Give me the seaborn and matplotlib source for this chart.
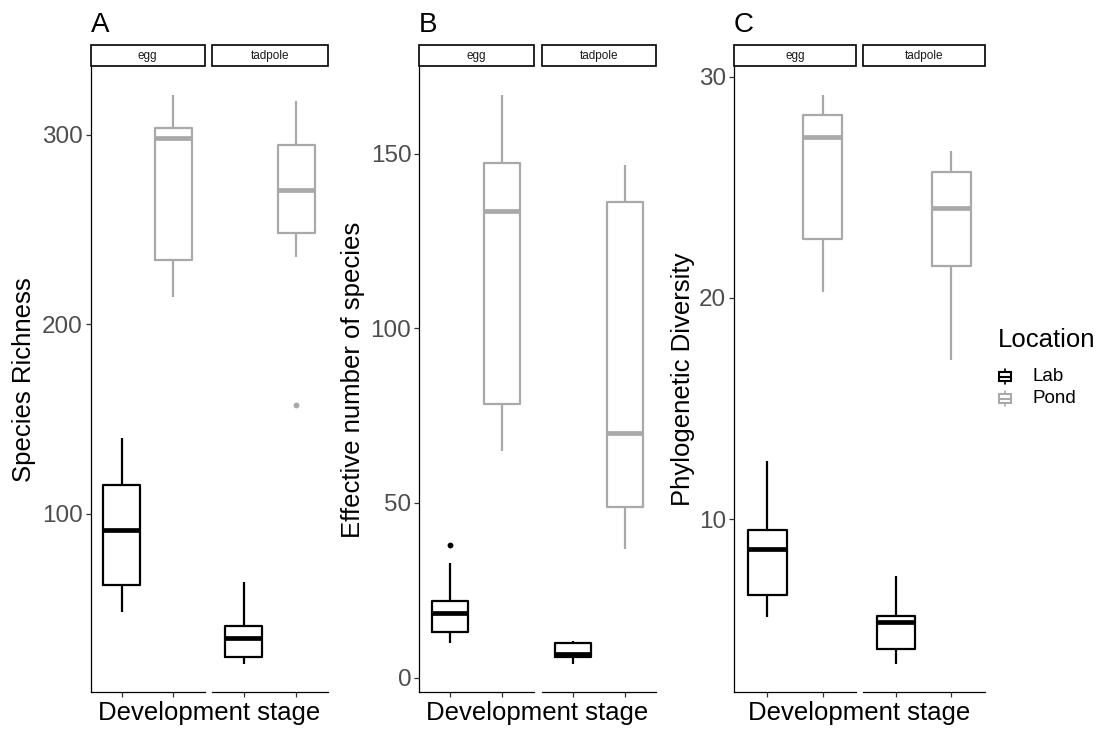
import numpy as np
import pandas as pd
import matplotlib
matplotlib.use("Agg")
import matplotlib.pyplot as plt
import seaborn as sns
from matplotlib.patches import Rectangle
from matplotlib.lines import Line2D

# ---------------- data (five-number summaries) -------------
stages = ["egg", "tadpole"]
locations = ["Lab", "Pond"]

# [lower whisker, Q1, median, Q3, upper whisker]
rich_egg_lab = [48.3, 62.4, 91.4, 115.0, 140.1]
rich_egg_pond = [214.6, 234.1, 298.5, 303.7, 320.9]
rich_tad_lab = [20.8, 24.5, 34.3, 40.5, 63.8]
rich_tad_pond = [235.3, 248.3, 271.0, 294.6, 317.7]
rich_outliers = [("tadpole", "Pond", 157.3)]

ens_egg_lab = [9.9, 13.1, 18.5, 22.0, 32.9]
ens_egg_pond = [64.9, 78.4, 133.6, 147.3, 166.7]
ens_tad_lab = [4.0, 6.0, 6.7, 9.9, 10.5]
ens_tad_pond = [36.9, 48.7, 70.0, 136.3, 146.7]
ens_outliers = [("egg", "Lab", 38.0)]

pd_egg_lab = [5.58, 6.57, 8.63, 9.52, 12.63]
pd_egg_pond = [20.25, 22.69, 27.26, 28.27, 29.16]
pd_tad_lab = [3.47, 4.11, 5.33, 5.64, 7.43]
pd_tad_pond = [17.2, 21.43, 24.08, 25.68, 26.63]
pd_outliers = []

rich_ticks = [100, 200, 300]
ens_ticks = [0, 50, 100, 150]
pd_ticks = [10, 20, 30]

# ---------------- styling ----------------
sns.set_theme(style="ticks")
plt.rcParams["font.family"] = ["Liberation Sans", "DejaVu Sans"]
plt.rcParams["text.color"] = "black"
plt.rcParams["axes.labelcolor"] = "black"

W, H = 1099, 730
fig = plt.figure(figsize=(W / 100, H / 100), dpi=100)


def fx(px):
    return px / W


def fy(py):
    return 1 - py / H


colors = {"Lab": "black", "Pond": "#A9A9A9"}
TOP, BOT = 67, 692
STRIP_TOP, STRIP_BOT = 45, 66


def make_df(boxes):
    rows = []
    for (stage, loc), vals in boxes.items():
        for v in vals:
            rows.append({"stage": stage, "Location": loc, "value": v})
    return pd.DataFrame(rows)


panels = [
    dict(letter="A", ylabel="Species Richness",
         boxes={("egg", "Lab"): rich_egg_lab, ("egg", "Pond"): rich_egg_pond,
                ("tadpole", "Lab"): rich_tad_lab, ("tadpole", "Pond"): rich_tad_pond},
         outliers=rich_outliers, ticks=rich_ticks,
         xs={"egg": (90.5, 204.5), "tadpole": (212, 328)}, ylab_x=24),
    dict(letter="B", ylabel="Effective number of species",
         boxes={("egg", "Lab"): ens_egg_lab, ("egg", "Pond"): ens_egg_pond,
                ("tadpole", "Lab"): ens_tad_lab, ("tadpole", "Pond"): ens_tad_pond},
         outliers=ens_outliers, ticks=ens_ticks,
         xs={"egg": (419, 533.5), "tadpole": (541.5, 656)}, ylab_x=353),
    dict(letter="C", ylabel="Phylogenetic Diversity",
         boxes={("egg", "Lab"): pd_egg_lab, ("egg", "Pond"): pd_egg_pond,
                ("tadpole", "Lab"): pd_tad_lab, ("tadpole", "Pond"): pd_tad_pond},
         outliers=pd_outliers, ticks=pd_ticks,
         xs={"egg": (734, 856), "tadpole": (863, 984.5)}, ylab_x=683),
]

for p in panels:
    df = make_df(p["boxes"])
    odf = pd.DataFrame(p["outliers"], columns=["stage", "Location", "value"])
    allv = list(df["value"]) + list(odf["value"])
    lo, hi = min(allv), max(allv)
    pad = 0.05 * (hi - lo)
    ylim = (lo - pad, hi + pad)

    for stage in stages:
        x0, x1 = p["xs"][stage]
        ax = fig.add_axes([fx(x0), fy(BOT), fx(x1 - x0), (BOT - TOP) / H])
        sub = df[df["stage"] == stage]
        sns.boxplot(data=sub, x="Location", y="value", hue="Location",
                    order=locations, hue_order=locations, palette=colors,
                    fill=False, width=0.7, whis=(0, 100), showfliers=False,
                    showcaps=False, linewidth=1.6,
                    medianprops=dict(linewidth=3.4), legend=False, ax=ax)
        osub = odf[odf["stage"] == stage]
        if len(osub):
            sns.stripplot(data=osub, x="Location", y="value", hue="Location",
                          order=locations, hue_order=locations, palette=colors,
                          jitter=False, size=4.2, linewidth=0, legend=False, ax=ax)
        ax.set_xlim(-0.6, 1.6)
        ax.set_ylim(*ylim)
        ax.set_xticks([0, 1])
        ax.set_xticklabels([])
        ax.set_xlabel("")
        ax.set_ylabel("")
        ax.set_facecolor("white")
        for s in ["top", "right"]:
            ax.spines[s].set_visible(False)
        ax.spines["bottom"].set_linewidth(0.9)
        ax.spines["left"].set_linewidth(0.9)
        ax.spines["bottom"].set_color("black")
        ax.spines["left"].set_color("black")
        ax.tick_params(axis="both", color="#333333", length=3.5, width=0.9,
                       labelsize=17.5, labelcolor="#4D4D4D", pad=2)
        if stage == "egg":
            ax.set_yticks(p["ticks"])
        else:
            ax.spines["left"].set_visible(False)
            ax.set_yticks([])

        # strip
        fig.add_artist(Rectangle((fx(x0), fy(STRIP_BOT)), fx(x1 - x0),
                                 (STRIP_BOT - STRIP_TOP) / H,
                                 transform=fig.transFigure, facecolor="white",
                                 edgecolor="black", lw=1.2))
        fig.text(fx((x0 + x1) / 2), fy((STRIP_TOP + STRIP_BOT) / 2 + 1), stage,
                 ha="center", va="center", fontsize=8.5, color="#1A1A1A")

    ex0 = p["xs"]["egg"][0]
    tx1 = p["xs"]["tadpole"][1]
    fig.text(fx(ex0), fy(32), p["letter"], fontsize=20, va="baseline", ha="left")
    fig.text(fx((ex0 + tx1) / 2), fy(720), "Development stage", ha="center",
             va="baseline", fontsize=18.5)
    fig.text(fx(p["ylab_x"]), fy((TOP + BOT) / 2), p["ylabel"], rotation=90,
             ha="center", va="center", fontsize=18.5)

# ---------------- legend ----------------
fig.text(fx(998), fy(340), "Location", fontsize=18.5, va="center", ha="left")
for i, loc in enumerate(locations):
    cy = 376.5 + 22 * i
    c = colors[loc]
    fig.add_artist(Rectangle((fx(999), fy(cy + 4.5)), fx(12), 9 / H,
                             transform=fig.transFigure, facecolor="white",
                             edgecolor=c, lw=1.5))
    fig.add_artist(Line2D([fx(999), fx(1011)], [fy(cy), fy(cy)],
                          transform=fig.transFigure, color=c, lw=1.5))
    fig.add_artist(Line2D([fx(1005), fx(1005)], [fy(cy - 4.5), fy(cy - 7.5)],
                          transform=fig.transFigure, color=c, lw=1.2))
    fig.add_artist(Line2D([fx(1005), fx(1005)], [fy(cy + 4.5), fy(cy + 7.5)],
                          transform=fig.transFigure, color=c, lw=1.2))
    fig.text(fx(1032), fy(cy), loc, fontsize=13.5, va="center", ha="left")

fig.savefig("out.png", dpi=100, facecolor="white")
